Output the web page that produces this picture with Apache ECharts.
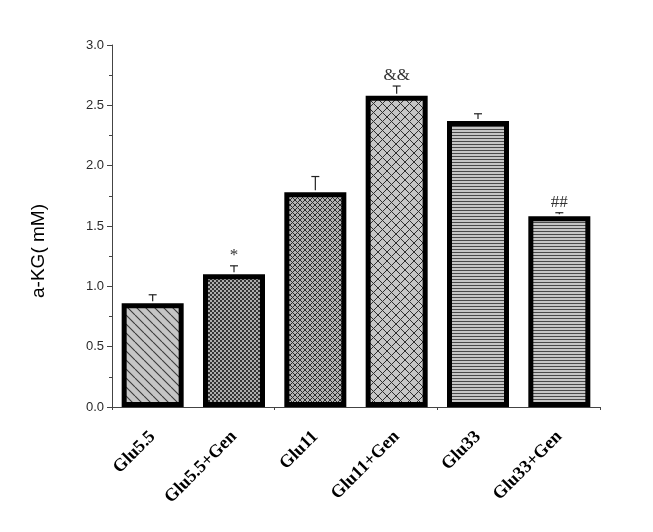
<!DOCTYPE html>
<html lang="en">
<head>
  <meta charset="UTF-8">
  <title>a-KG</title>
  <script src="https://cdn.jsdelivr.net/npm/echarts@6/dist/echarts.min.js"></script>
  <style>
    html, body { margin: 0; padding: 0; background: #fff; }
    #chart { width: 653px; height: 532px; }
  </style>
</head>
<body>
<div id="chart"></div>

<script>
  // data
  let groups = ["Glu5.5", "Glu5.5+Gen", "Glu11", "Glu11+Gen", "Glu33", "Glu33+Gen"];
  let meanVals = [0.86, 1.10, 1.78, 2.58, 2.37, 1.58];
  let errVals = [0.07, 0.07, 0.13, 0.08, 0.06, 0.03];
  let marks = ["", "*", "", "&&", "", "##"];
  let yTicks = [0, 0.5, 1.0, 1.5, 2.0, 2.5, 3.0];

  // little canvas fill patterns, one per bar
  function makePattern(kind) {
    let c = document.createElement("canvas");
    let g, s;
    if (kind === "diag") {
      s = 9;
      c.width = s; c.height = s;
      g = c.getContext("2d");
      g.fillStyle = "#c6c6c6"; g.fillRect(0, 0, s, s);
      g.strokeStyle = "#3a3a3a"; g.lineWidth = 1.1;
      g.beginPath();
      for (let k = -1; k <= 1; k++) {
        g.moveTo(k * s, 0); g.lineTo(k * s + s, s);
      }
      g.stroke();
    } else if (kind === "checker") {
      c.width = 4; c.height = 4;
      g = c.getContext("2d");
      g.fillStyle = "#adadad"; g.fillRect(0, 0, 4, 4);
      g.fillStyle = "#333";
      g.fillRect(0, 0, 2, 2); g.fillRect(2, 2, 2, 2);
    } else if (kind === "cross5" || kind === "cross9") {
      s = kind === "cross5" ? 5 : 9;
      c.width = s; c.height = s;
      g = c.getContext("2d");
      g.fillStyle = kind === "cross5" ? "#b4b4b4" : "#c6c6c6"; g.fillRect(0, 0, s, s);
      g.strokeStyle = "#2e2e2e"; g.lineWidth = 1;
      g.beginPath();
      for (let k = -1; k <= 1; k++) {
        g.moveTo(k * s, 0); g.lineTo(k * s + s, s);
        g.moveTo(k * s + s, 0); g.lineTo(k * s, s);
      }
      g.stroke();
    } else {
      c.width = 4; c.height = 3;
      g = c.getContext("2d");
      g.fillStyle = "#c6c6c6"; g.fillRect(0, 0, 4, 3);
      g.fillStyle = "#4a4a4a"; g.fillRect(0, 0, 4, 1);
    }
    return { image: c, repeat: "repeat" };
  }

  let patternKinds = ["diag", "checker", "cross5", "cross9", "horiz", "horiz"];

  function chartInit() {
    let myChart = echarts.init(document.getElementById("chart"), null, { renderer: "canvas" });

    let barData = [];
    for (let i = 0; i < groups.length; i++) {
      barData.push({
        value: meanVals[i],
        itemStyle: { color: makePattern(patternKinds[i]) }
      });
    }
    let errData = [];
    for (let i = 0; i < groups.length; i++) {
      errData.push([i, meanVals[i], errVals[i]]);
    }

    let option = {
      animation: false,
      grid: { left: 112, right: 53, top: 45, bottom: 125 },
      xAxis: [
        {
          type: "category",
          data: groups,
          axisLine: { lineStyle: { color: "#444", width: 1 } },
          axisTick: { alignWithLabel: true, length: 5, lineStyle: { color: "#444" } },
          axisLabel: {
            rotate: 45,
            margin: 27,
            interval: 0,
            color: "#000",
            fontFamily: "Liberation Serif",
            fontWeight: "bold",
            fontSize: 18
          }
        },
        {
          type: "category",
          data: groups,
          position: "bottom",
          axisLine: { show: false },
          axisTick: { show: true, length: 3, lineStyle: { color: "#444" } },
          axisLabel: { show: false }
        }
      ],
      yAxis: {
        type: "value",
        min: 0,
        max: 3,
        interval: 0.5,
        name: "a-KG( mM)",
        nameLocation: "middle",
        nameGap: 64,
        nameTextStyle: { fontFamily: "Liberation Sans", fontSize: 19, color: "#000", padding: [0, 0, 0, -50] },
        axisLine: { show: true, lineStyle: { color: "#444", width: 1 } },
        axisTick: { show: true, length: 5, lineStyle: { color: "#444" } },
        minorTick: { show: true, splitNumber: 2, length: 3, lineStyle: { color: "#444" } },
        splitLine: { show: false },
        axisLabel: {
          color: "#2a2a2a",
          fontFamily: "Liberation Sans",
          fontSize: 13,
          margin: 8,
          formatter: function (v) { return v.toFixed(1); }
        }
      },
      series: [
        {
          type: "bar",
          data: barData,
          barWidth: 62,
          itemStyle: { borderColor: "#000", borderWidth: 5 },
          z: 2
        },
        {
          type: "custom",
          data: errData,
          z: 3,
          renderItem: function (params, api) {
            let i = api.value(0);
            let v = api.value(1);
            let e = api.value(2);
            let mark = marks[params.dataIndex];
            let base = api.coord([i, v]);
            let top = api.coord([i, v + e]);
            let kids = [
              { type: "line", shape: { x1: base[0], y1: base[1] - 2, x2: top[0], y2: top[1] },
                style: { stroke: "#222", lineWidth: 1.2 } },
              { type: "line", shape: { x1: top[0] - 4, y1: top[1], x2: top[0] + 4, y2: top[1] },
                style: { stroke: "#222", lineWidth: 1.2 } }
            ];
            if (mark) {
              kids.push({
                type: "text",
                x: top[0],
                y: top[1] - 2,
                style: {
                  text: mark,
                  fill: "#333",
                  font: "17px 'Liberation Serif'",
                  align: "center",
                  verticalAlign: "bottom"
                }
              });
            }
            return { type: "group", children: kids };
          }
        }
      ]
    };
    myChart.setOption(option, true);
    window.addEventListener("resize", function () {
      myChart.resize();
    });
  }

  chartInit();
</script>
</html>
